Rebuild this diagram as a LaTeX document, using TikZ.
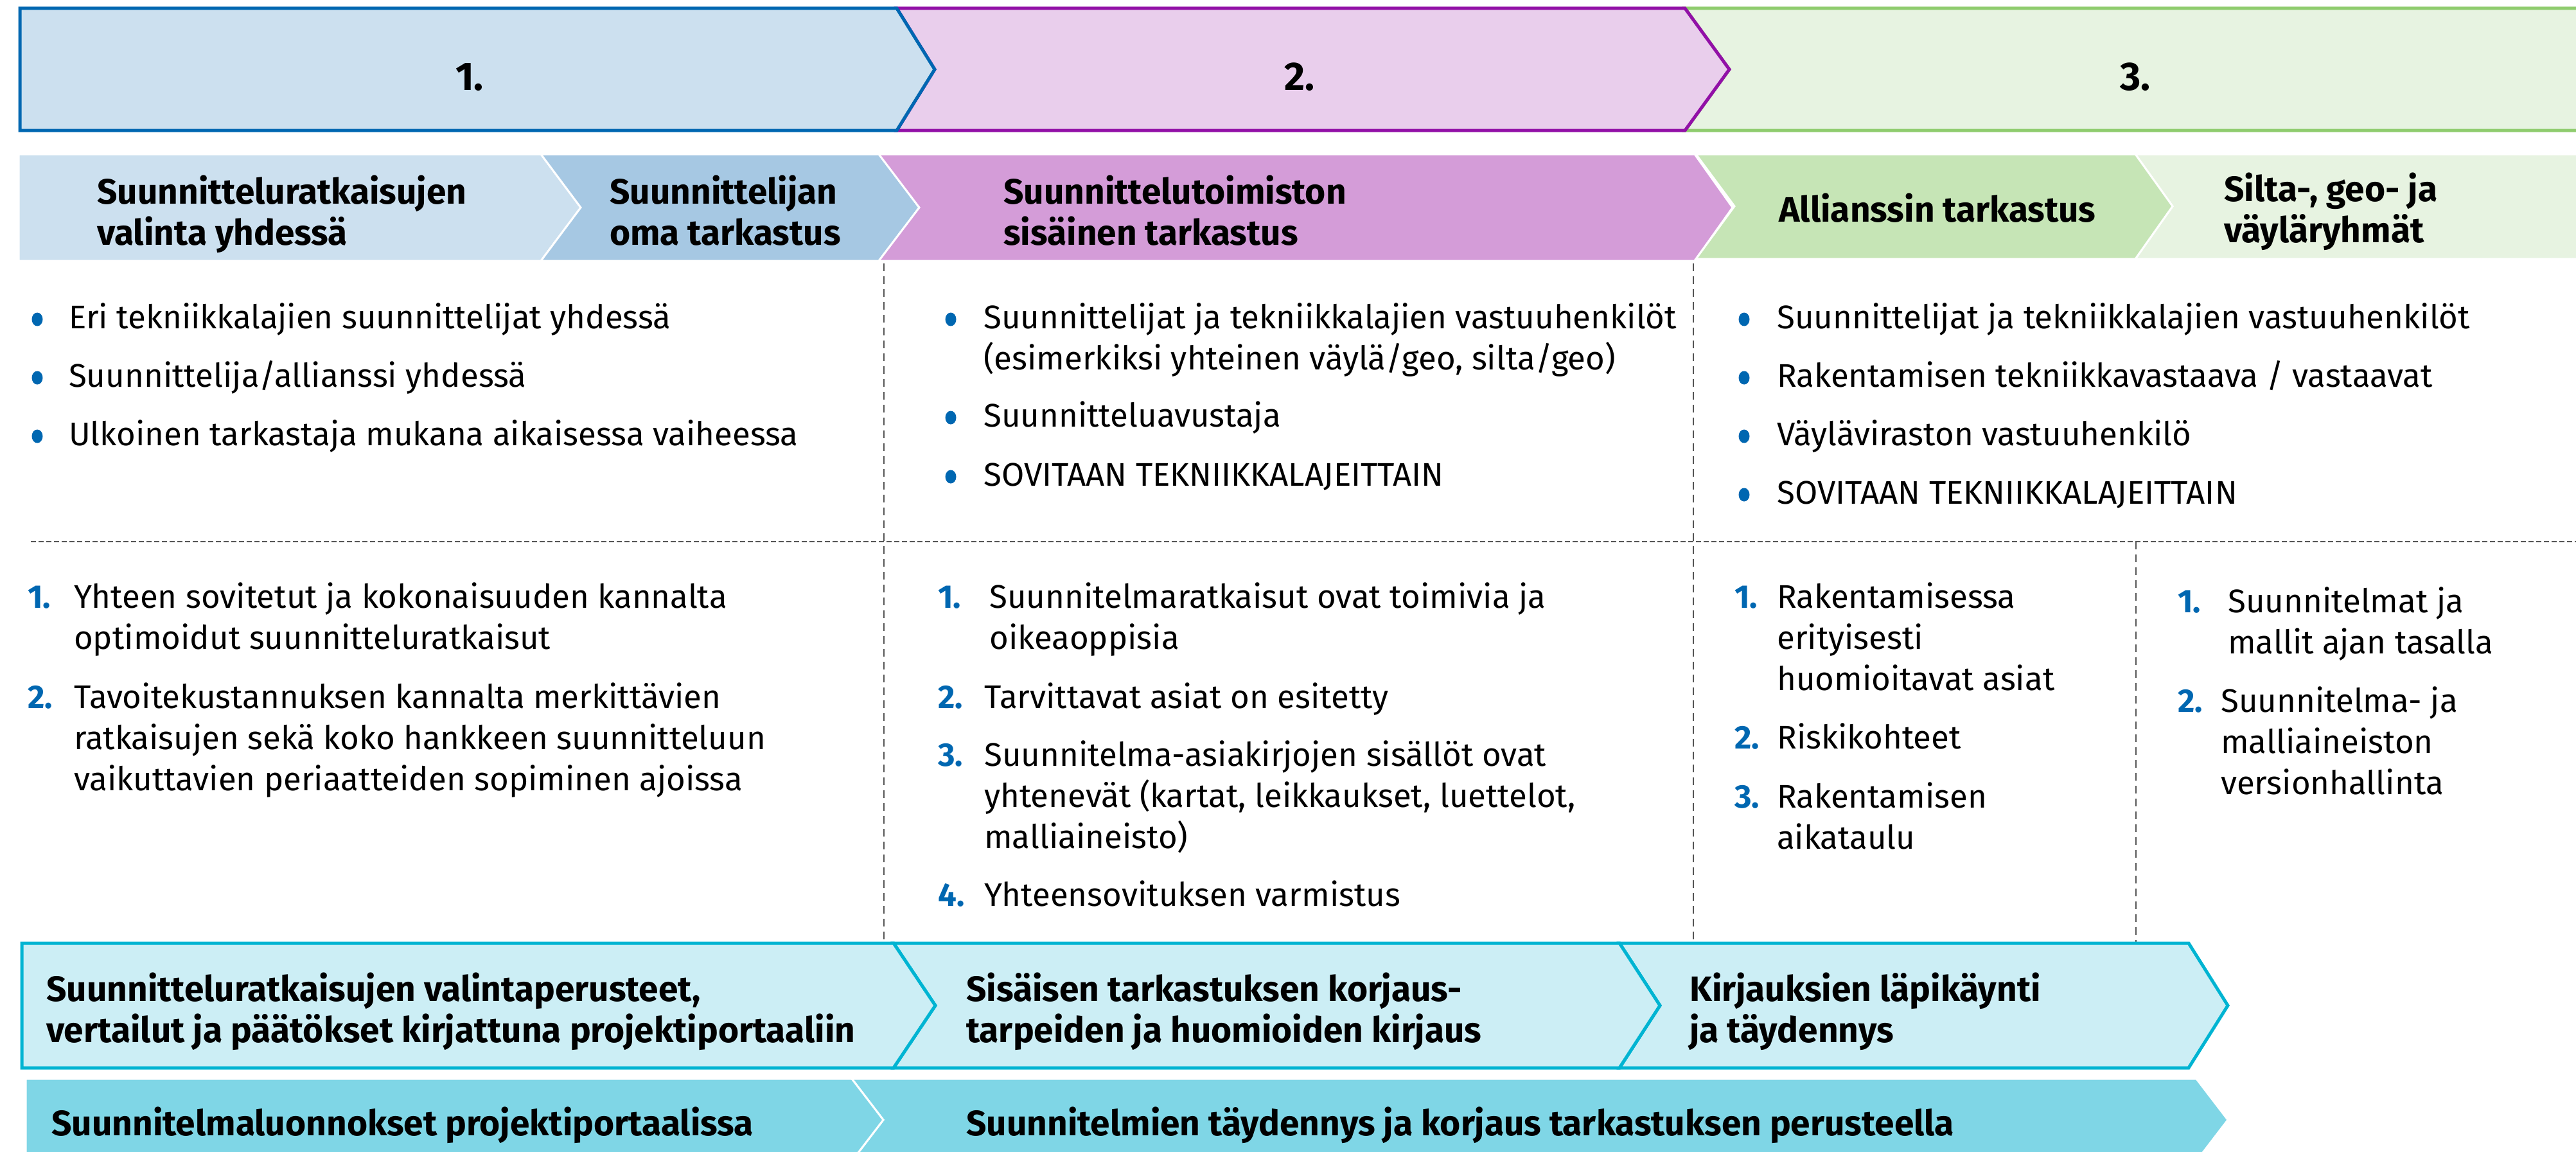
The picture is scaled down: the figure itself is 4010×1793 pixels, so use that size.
\documentclass[tikz,border=0pt]{standalone}
\usepackage{fontspec}
\setmainfont{Fira Sans}

\definecolor{phaseAline}{HTML}{0067B1}
\definecolor{phaseAfill}{HTML}{CCE0EF}
\definecolor{phaseBline}{HTML}{9210A7}
\definecolor{phaseBfill}{HTML}{E9CEEC}
\definecolor{phaseCline}{HTML}{8FCC6E}
\definecolor{phaseCfill}{HTML}{E7F3E1}
\definecolor{stepAfill}{HTML}{A6C8E3}
\definecolor{stepBfill}{HTML}{D49CD8}
\definecolor{stepCfill}{HTML}{C6E5B6}
\definecolor{cyanline}{HTML}{00B4D2}
\definecolor{cyanfill}{HTML}{CCEEF5}
\definecolor{cyandark}{HTML}{7FD6E6}
\definecolor{numblue}{HTML}{0067B1}
\definecolor{rulegray}{HTML}{555555}

% multi-line nodes are anchored at the baseline of their last line
\tikzset{
  bodytext/.style={font=\fontsize{51}{64}\selectfont, anchor=base west, inner sep=0pt, align=left},
  headtext/.style={font=\bfseries\fontsize{55}{64}\selectfont, anchor=base west, inner sep=0pt, align=left},
  numtext/.style={font=\bfseries\fontsize{51}{64}\selectfont, text=numblue, anchor=base west, inner sep=0pt},
  phasetext/.style={font=\bfseries\fontsize{62}{70}\selectfont, anchor=base, inner sep=0pt},
  bulletdot/.style={ellipse, fill=numblue, minimum width=17pt, minimum height=21pt, inner sep=0pt},
  phasebox/.style={line width=5pt, line join=miter},
  stepbox/.style={draw=white, line width=3pt},
  cyanbox/.style={fill=cyanfill, draw=cyanline, line width=5pt},
  hrule/.style={draw=rulegray, line width=2.5pt, dash pattern=on 8pt off 4pt},
  vrule/.style={draw=rulegray, line width=2.5pt, dash pattern=on 12pt off 8pt},
}
\usetikzlibrary{shapes.geometric}

\begin{document}
\begin{tikzpicture}[x=1pt, y=-1pt]
\useasboundingbox (0,0) rectangle (4010,1793);
\fill[white] (0,0) rectangle (4010,1793);

% ---- phase band ----
\filldraw[phasebox, fill=phaseCfill, draw=phaseCline]
  (4030,13) -- (2623,13) -- (2692,108) -- (2623,203) -- (4030,203);
\filldraw[phasebox, fill=phaseBfill, draw=phaseBline]
  (1396,13) -- (2623,13) -- (2692,108) -- (2623,203) -- (1396,203) -- (1455,108) -- cycle;
\filldraw[phasebox, fill=phaseAfill, draw=phaseAline]
  (31,13) -- (1396,13) -- (1455,108) -- (1396,203) -- (31,203) -- cycle;
\node[phasetext] (p1) at (731,140) {1.};
\node[phasetext] (p2) at (2023,140) {2.};
\node[phasetext] (p3) at (3324,140) {3.};

% ---- step headers ----
\filldraw[stepbox, fill=phaseAfill]
  (29,240) -- (842,240) -- (904,323) -- (842,406) -- (29,406) -- cycle;
\filldraw[stepbox, fill=stepAfill]
  (842,240) -- (1368,240) -- (1431,323) -- (1368,406) -- (842,406) -- (904,323) -- cycle;
\filldraw[stepbox, fill=stepBfill]
  (1368,240) -- (2638,240) -- (2697,323) -- (2638,406) -- (1368,406) -- (1431,323) -- cycle;
\filldraw[stepbox, fill=phaseCfill]
  (3324,240) -- (4030,240) -- (4030,403) -- (3324,403) -- (3382,321) -- cycle;
\filldraw[stepbox, fill=stepCfill]
  (2640,240) -- (3324,240) -- (3382,321) -- (3324,403) -- (2640,403) -- (2700,321) -- cycle;

\node[headtext] (h1) at (151,381) {Suunnitteluratkaisujen\\valinta yhdessä};
\node[headtext] (h2) at (949,381) {Suunnittelijan\\oma tarkastus};
\node[headtext] (h3) at (1562,381) {Suunnittelutoimiston\\sisäinen tarkastus};
\node[headtext] (h4) at (2769,345) {Allianssin tarkastus};
\node[headtext] (h5) at (3462,377) {Silta-, geo- ja\\väyläryhmät};

% ---- dashed rules ----
\draw[hrule] (48,843) -- (4010,843);
\draw[vrule] (1376,410) -- (1376,1466);
\draw[vrule] (2636,410) -- (2636,1466);
\draw[vrule] (3325,843) -- (3325,1466);

% ---- participants ----
\node[bulletdot] (b11) at (58,497) {};
\node[bodytext] (t11) at (107,511) {Eri tekniikkalajien suunnittelijat yhdessä};
\node[bulletdot] (b12) at (58,588) {};
\node[bodytext] (t12) at (107,602) {Suunnittelija/allianssi yhdessä};
\node[bulletdot] (b13) at (58,679) {};
\node[bodytext] (t13) at (107,693) {Ulkoinen tarkastaja mukana aikaisessa vaiheessa};

\node[bulletdot] (b21) at (1480,497) {};
\node[bodytext] (t21) at (1531,575) {Suunnittelijat ja tekniikkalajien vastuuhenkilöt\\(esimerkiksi yhteinen väylä/geo, silta/geo)};
\node[bulletdot] (b22) at (1480,650) {};
\node[bodytext] (t22) at (1531,664) {Suunnitteluavustaja};
\node[bulletdot] (b23) at (1480,742) {};
\node[bodytext] (t23) at (1531,756) {SOVITAAN TEKNIIKKALAJEITTAIN};

\node[bulletdot] (b31) at (2715,497) {};
\node[bodytext] (t31) at (2766,511) {Suunnittelijat ja tekniikkalajien vastuuhenkilöt};
\node[bulletdot] (b32) at (2715,588) {};
\node[bodytext] (t32) at (2766,602) {Rakentamisen tekniikkavastaava / vastaavat};
\node[bulletdot] (b33) at (2715,679) {};
\node[bodytext] (t33) at (2766,693) {Väyläviraston vastuuhenkilö};
\node[bulletdot] (b34) at (2715,770) {};
\node[bodytext] (t34) at (2766,784) {SOVITAAN TEKNIIKKALAJEITTAIN};

% ---- goals ----
\node[numtext] (n11) at (43,946) {1.};
\node[bodytext] (g11) at (115,1010) {Yhteen sovitetut ja kokonaisuuden kannalta\\optimoidut suunnitteluratkaisut};
\node[numtext] (n12) at (43,1102) {2.};
\node[bodytext] (g12) at (115,1230) {Tavoitekustannuksen kannalta merkittävien\\ratkaisujen sekä koko hankkeen suunnitteluun\\vaikuttavien periaatteiden sopiminen ajoissa};

\node[numtext] (n21) at (1460,946) {1.};
\node[bodytext] (g21) at (1540,1010) {Suunnitelmaratkaisut ovat toimivia ja\\oikeaoppisia};
\node[numtext] (n22) at (1460,1102) {2.};
\node[bodytext] (g22) at (1532,1102) {Tarvittavat asiat on esitetty};
\node[numtext] (n23) at (1460,1192) {3.};
\node[bodytext] (g23) at (1532,1320) {Suunnitelma-asiakirjojen sisällöt ovat\\yhtenevät (kartat, leikkaukset, luettelot,\\malliaineisto)};
\node[numtext] (n24) at (1460,1410) {4.};
\node[bodytext] (g24) at (1532,1410) {Yhteensovituksen varmistus};

\node[numtext] (n31) at (2700,946) {1.};
\node[bodytext] (g31) at (2766,1074) {Rakentamisessa\\erityisesti\\huomioitavat asiat};
\node[numtext] (n32) at (2700,1165) {2.};
\node[bodytext] (g32) at (2766,1165) {Riskikohteet};
\node[numtext] (n33) at (2700,1257) {3.};
\node[bodytext] (g33) at (2766,1321) {Rakentamisen\\aikataulu};

\node[numtext] (n41) at (3390,953) {1.};
\node[bodytext] (g41) at (3468,1017) {Suunnitelmat ja\\mallit ajan tasalla};
\node[numtext] (n42) at (3390,1108) {2.};
\node[bodytext] (g42) at (3457,1236) {Suunnitelma- ja\\malliaineiston\\versionhallinta};

% ---- documentation row ----
\filldraw[cyanbox]
  (2521,1468) -- (3407,1468) -- (3468,1565) -- (3407,1662) -- (2521,1662) -- (2584,1565) -- cycle;
\filldraw[cyanbox]
  (1391,1468) -- (2521,1468) -- (2584,1565) -- (2521,1662) -- (1391,1662) -- (1456,1565) -- cycle;
\filldraw[cyanbox]
  (34,1468) -- (1391,1468) -- (1456,1565) -- (1391,1662) -- (34,1662) -- cycle;
\node[headtext] (c1) at (72,1622) {Suunnitteluratkaisujen valintaperusteet,\\vertailut ja päätökset kirjattuna projektiportaaliin};
\node[headtext] (c2) at (1504,1622) {Sisäisen tarkastuksen korjaus-\\tarpeiden ja huomioiden kirjaus};
\node[headtext] (c3) at (2630,1622) {Kirjauksien läpikäynti\\ja täydennys};

% ---- plan row ----
\filldraw[stepbox, fill=cyandark]
  (1326,1679) -- (3419,1679) -- (3468,1743) -- (3419,1807) -- (1326,1807) -- (1375,1743) -- cycle;
\filldraw[stepbox, fill=cyandark]
  (40,1679) -- (1326,1679) -- (1375,1743) -- (1326,1807) -- (40,1807) -- cycle;
\node[headtext] (d1) at (80,1767) {Suunnitelmaluonnokset projektiportaalissa};
\node[headtext] (d2) at (1504,1767) {Suunnitelmien täydennys ja korjaus tarkastuksen perusteella};
\end{tikzpicture}
\end{document}
